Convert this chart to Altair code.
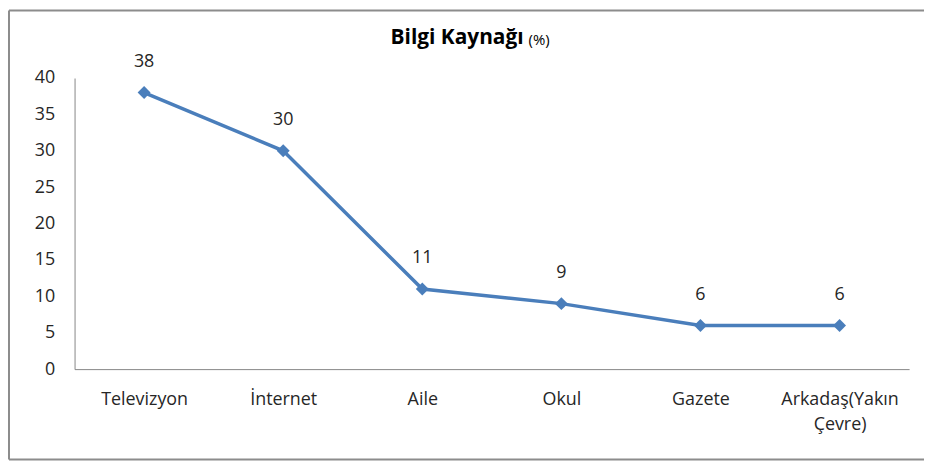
import altair as alt
import pandas as pd

categories = ["Televizyon", "İnternet", "Aile", "Okul", "Gazete", "Arkadaş(Yakın Çevre)"]
values = [38, 30, 11, 9, 6, 6]
y_ticks = [0, 5, 10, 15, 20, 25, 30, 35, 40]

df = pd.DataFrame({"kaynak": categories, "deger": values})

FONT = "Open Sans"
BLUE = "#4a7ebb"
GRAY = "#8c8c8c"
W, H = 840, 293
PL, PT, PR, PB = 67, 69, 15, 92

x = alt.X("kaynak:N", sort=categories, title=None,
          scale=alt.Scale(paddingInner=0, paddingOuter=0),
          axis=alt.Axis(labelAngle=0, ticks=False, grid=False, domainColor="#868686",
                        labelFont=FONT, labelFontSize=18, labelColor="#262626",
                        labelPadding=22, labelLineHeight=25,
                        labelExpr="datum.label == 'Arkadaş(Yakın Çevre)' ? ['Arkadaş(Yakın', 'Çevre)'] : datum.label"))
y = alt.Y("deger:Q", title=None,
          scale=alt.Scale(domain=[0, 40], nice=False),
          axis=alt.Axis(values=y_ticks, ticks=False, grid=False, domainColor="#868686",
                        labelFont=FONT, labelFontSize=18, labelColor="#262626",
                        labelPadding=20))

base = alt.Chart(df).encode(x=x, y=y)

line = base.mark_line(color=BLUE, strokeWidth=3.5)
pts = base.mark_point(shape="diamond", filled=True, color=BLUE, size=170, opacity=1)
labels = base.mark_text(dy=-31, font=FONT, fontSize=18, color="#262626").encode(text="deger:Q")

title_df = pd.DataFrame({"t": ["Bilgi Kaynağı"]})
title_main = alt.Chart(title_df).mark_text(
    font=FONT, fontSize=21, fontWeight="bold", align="right", baseline="middle", color="#000000"
).encode(x=alt.value(452), y=alt.value(-40), text="t:N")
pct_df = pd.DataFrame({"t": ["(%)"]})
title_pct = alt.Chart(pct_df).mark_text(
    font=FONT, fontSize=15, align="left", baseline="middle", color="#000000"
).encode(x=alt.value(457), y=alt.value(-38), text="t:N")

# outer chart frame (top, left, bottom edges; right edge lies outside the window)
border_df = pd.DataFrame({"b": [1]})
frame_top = alt.Chart(border_df).mark_rule(color=GRAY, strokeWidth=2, clip=False).encode(
    x=alt.value(-PL + 1), x2=alt.value(W + PR), y=alt.value(-PT + 1))
frame_left = alt.Chart(border_df).mark_rule(color=GRAY, strokeWidth=2, clip=False).encode(
    x=alt.value(-PL + 1), y=alt.value(-PT + 1), y2=alt.value(H + PB - 1))
frame_bottom = alt.Chart(border_df).mark_rule(color=GRAY, strokeWidth=2, clip=False).encode(
    x=alt.value(-PL + 1), x2=alt.value(W + PR), y=alt.value(H + PB - 1))

chart = alt.layer(frame_top, frame_left, frame_bottom, line, pts, labels, title_main, title_pct).properties(
    width=W, height=H,
    padding={"left": PL, "top": PT, "right": PR, "bottom": PB},
    autosize=alt.AutoSizeParams(type="none"),
    background="white",
    view=alt.ViewBackground(stroke="#ffffff", strokeOpacity=0, strokeWidth=0),
).configure_view(stroke="#ffffff", strokeOpacity=0, strokeWidth=0)

chart.save("out.html", embed_options={"renderer": "svg", "actions": False})
